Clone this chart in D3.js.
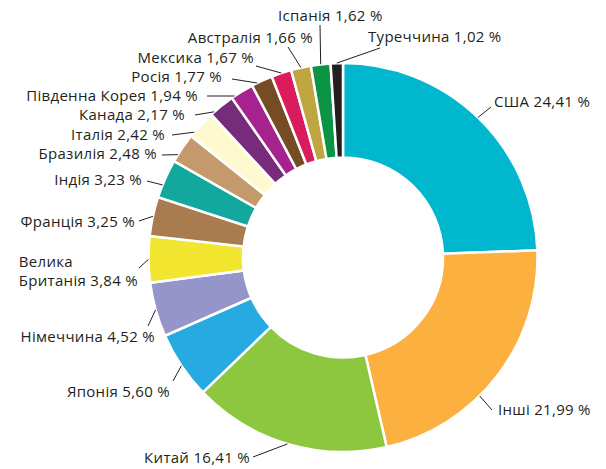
<!DOCTYPE html>
<html>
<head>
<meta charset="utf-8">
<script src="https://cdn.jsdelivr.net/npm/d3@7"></script>
<style>
  body { margin: 0; background: #fff; }
  .lbl { font-family: "Open Sans", sans-serif; font-size: 15px; letter-spacing: 0.3px; fill: #231f20; }
</style>
</head>
<body>
<div class="chart"></div>
<script>
// shares of the total, clockwise from 12 o'clock
var countries = ['США', 'Інші', 'Китай', 'Японія', 'Німеччина', 'Велика Британія', 'Франція', 'Індія',
    'Бразилія', 'Італія', 'Канада', 'Південна Корея', 'Росія', 'Мексика', 'Австралія', 'Іспанія', 'Туреччина']
var shares = [24.41, 21.99, 16.41, 5.60, 4.52, 3.84, 3.25, 3.23, 2.48, 2.42, 2.17, 1.94, 1.77, 1.67, 1.66, 1.62, 1.02]
var colors = ['#00b7cd', '#fbb040', '#8dc63f', '#27aae1', '#9595c9', '#f2e630', '#a97c50', '#13a89e',
    '#c49a6c', '#fff9cf', '#762c7b', '#a6228f', '#754c24', '#da1c5c', '#bfa640', '#0b9444', '#231f20']

// hand placed labels: text position, where the leader ends, and where along the slice it starts
var labelLayout = [
    {x: 494, y: 107, anchor: 'start', lx: 491, ly: 107, at: 0.5},
    {x: 498, y: 415, anchor: 'start', lx: 492, ly: 410, at: 0.6},
    {x: 250, y: 463, anchor: 'end', lx: 253, ly: 457, at: 0.5},
    {x: 170, y: 397, anchor: 'end', lx: 173, ly: 381, at: 0.5},
    {x: 155, y: 342, anchor: 'end', lx: 148, ly: 326, at: 0.5},
    {x: 138, y: 286, anchor: 'end', lx: 139, ly: 268, at: 0.5, wrap: true},
    {x: 135, y: 227, anchor: 'end', lx: 139, ly: 221, at: 0.5},
    {x: 142, y: 185, anchor: 'end', lx: 147, ly: 181, at: 0.33},
    {x: 157, y: 159, anchor: 'end', lx: 162, ly: 155, at: 0.25},
    {x: 165, y: 140, anchor: 'end', lx: 172, ly: 135, at: 0.17},
    {x: 185, y: 120, anchor: 'end', lx: 195, ly: 115, at: 0.15},
    {x: 198, y: 101, anchor: 'end', lx: 207, ly: 96, at: 0.14},
    {x: 222, y: 82, anchor: 'end', lx: 232, ly: 79, at: 0.26},
    {x: 254, y: 63, anchor: 'end', lx: 256, ly: 66, at: 0.5},
    {x: 313, y: 43, anchor: 'end', lx: 288, ly: 47, at: 0.5},
    {x: 278, y: 21, anchor: 'start', lx: 320, ly: 25, at: 0.5},
    {x: 368, y: 42, anchor: 'start', lx: 380, ly: 48, at: 0.5}
]

var width = 606, height = 469
var cx = 343, cy = 257.5
var outerR = 194.5, innerR = 100

var fmt = d3.format('.2f')
var pct = v => fmt(v).replace('.', ',') + ' %'

var svg = d3.select('.chart').append('svg')
    .attr('width', width)
    .attr('height', height)
    .attr('viewBox', [0, 0, width, height])

var pie = d3.pie().sort(null).value(d => d)
var arc = d3.arc().innerRadius(innerR).outerRadius(outerR)
var arcs = pie(shares)

var g = svg.append('g')
    .attr('transform', 'translate(' + cx + ',' + cy + ')')

g.selectAll('.slice')
    .data(arcs)
    .enter()
    .append('path')
    .attr('class', 'slice')
    .attr('d', arc)
    .attr('fill', (d, i) => colors[i])
    .attr('stroke', '#fff')
    .attr('stroke-width', 2.5)

// leaders: from the slice rim out to the label
var rimAngle = (d, i) => d.startAngle + labelLayout[i].at * (d.endAngle - d.startAngle)

g.selectAll('.leader')
    .data(arcs)
    .enter()
    .append('line')
    .attr('class', 'leader')
    .attr('x1', (d, i) => outerR * Math.sin(rimAngle(d, i)))
    .attr('y1', (d, i) => -outerR * Math.cos(rimAngle(d, i)))
    .attr('x2', (d, i) => labelLayout[i].lx - cx)
    .attr('y2', (d, i) => labelLayout[i].ly - cy)
    .attr('stroke', '#231f20')
    .attr('stroke-width', 1)

var labels = svg.append('g')

countries.forEach(function(name, i) {
    var L = labelLayout[i]
    if (L.wrap) {
        var cut = name.indexOf(' ')
        var second = labels.append('text')
            .attr('class', 'lbl')
            .attr('x', L.x)
            .attr('y', L.y)
            .attr('text-anchor', 'end')
            .text(name.slice(cut + 1) + ' ' + pct(shares[i]))
        var left = L.x - second.node().getComputedTextLength()
        labels.append('text')
            .attr('class', 'lbl')
            .attr('x', left)
            .attr('y', L.y - 19)
            .text(name.slice(0, cut))
    } else {
        labels.append('text')
            .attr('class', 'lbl')
            .attr('x', L.x)
            .attr('y', L.y)
            .attr('text-anchor', L.anchor)
            .text(name + ' ' + pct(shares[i]))
    }
})
</script>
</body>
</html>
